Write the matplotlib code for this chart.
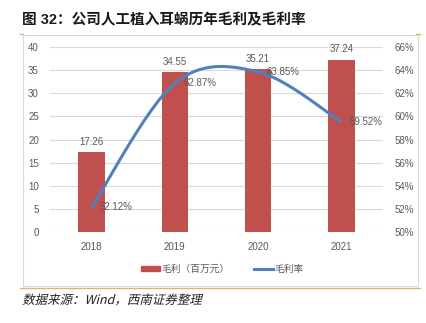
import numpy as np
import matplotlib
matplotlib.use("Agg")
import matplotlib.pyplot as plt
from matplotlib.patches import Rectangle, PathPatch
from matplotlib.lines import Line2D
from matplotlib.textpath import TextPath
from matplotlib.font_manager import FontProperties
from matplotlib.transforms import Affine2D

plt.rcParams['font.family'] = ['Liberation Sans', 'Noto Sans CJK SC', 'DejaVu Sans']

years = ['2018', '2019', '2020', '2021']
gross_profit = [17.26, 34.55, 35.21, 37.24]      # 百万元
gross_margin = [52.12, 62.87, 63.85, 59.52]      # %
left_ticks = [0, 5, 10, 15, 20, 25, 30, 35, 40]
right_ticks = [50, 52, 54, 56, 58, 60, 62, 64, 66]

bar_color = '#C0504D'
line_color = '#4F81BD'
text_color = '#595959'
grid_color = '#D9D9D9'

W, H = 426, 323
fig = plt.figure(figsize=(W / 100, H / 100), dpi=100)


def fx(px):
    return px / W


def fy(py):
    return 1 - py / H


# chart frame and the orange rules
fig.patches.append(Rectangle((fx(22.5), fy(286)), fx(418) - fx(22.5), fy(35) - fy(286),
                             transform=fig.transFigure, fill=False, ec='#D9D9D9', lw=0.8))
fig.add_artist(Line2D([fx(20), fx(420)], [fy(288), fy(288)], color='#E8B06A', lw=1.0))
fig.add_artist(Line2D([fx(20), fx(23)], [fy(34), fy(34)], color='#E8B06A', lw=1.0))
fig.add_artist(Line2D([fx(416), fx(420)], [fy(34), fy(34)], color='#E8B06A', lw=1.0))

ax = fig.add_axes([fx(50), fy(232), fx(383) - fx(50), fy(47) - fy(232)])
x = np.arange(len(years))
ax.bar(x, gross_profit, width=0.32, color=bar_color, zorder=2)
ax.set_xlim(-0.5, 3.5)
ax.set_ylim(0, 40)
ax.set_yticks(left_ticks)
ax.set_xticks(x, years)
ax.grid(axis='y', color=grid_color, lw=0.8, zorder=0)
for s in ax.spines.values():
    s.set_visible(False)
ax.tick_params(length=0, labelsize=7, labelcolor=text_color, pad=8)
ax.tick_params(axis='x', pad=7)
for xi, v in zip(x, gross_profit):
    ax.annotate(f'{v:.2f}', (xi, v), xytext=(0, 4), textcoords='offset points',
                ha='center', va='bottom', fontsize=7, color=text_color)

ax2 = ax.twinx()
ax2.set_ylim(50, 66)
ax2.set_yticks(right_ticks, [f'{t}%' for t in right_ticks])
for s in ax2.spines.values():
    s.set_visible(False)
ax2.tick_params(length=0, labelsize=7, labelcolor=text_color, pad=8)

# smoothed line through the margin points (cubic Bezier, Catmull-Rom tangents)
pts = np.column_stack([x.astype(float), np.array(gross_margin, dtype=float)])
n = len(pts)
xs, ys = [], []
t = np.linspace(0, 1, 40)[:, None]
for i in range(n - 1):
    a, b = pts[i], pts[i + 1]
    prev = pts[i - 1] if i > 0 else a
    nxt = pts[i + 2] if i + 2 < n else b
    c1 = a + (b - prev) / 6
    c2 = b - (nxt - a) / 6
    seg = (1 - t) ** 3 * a + 3 * (1 - t) ** 2 * t * c1 + 3 * (1 - t) * t ** 2 * c2 + t ** 3 * b
    xs.extend(seg[:, 0])
    ys.extend(seg[:, 1])
ax2.plot(xs, ys, color=line_color, lw=2.2, solid_capstyle='butt', zorder=3)
for xi, v in zip(x, gross_margin):
    ax2.annotate(f'{v:.2f}%', (xi, v), xytext=(6, 0), textcoords='offset points',
                 ha='left', va='center', fontsize=7, color=text_color)

# legend
handles = [Rectangle((0, 0), 1, 1, color=bar_color),
           Line2D([0], [0], color=line_color, lw=2.2)]
fig.legend(handles, ['毛利（百万元）', '毛利率'], loc='center',
           bbox_to_anchor=(fx(222), fy(269)), ncol=2, frameon=False,
           fontsize=7, labelcolor=text_color, handlelength=2.0, handleheight=0.5,
           handletextpad=0.1, columnspacing=2.5)

# title
fig.text(fx(22), fy(20), '图 32：公司人工植入耳蜗历年毛利及毛利率', fontsize=10.5,
         fontweight='bold', color='#1a1a1a', ha='left', va='center',
         family=['Liberation Sans', 'Noto Sans CJK SC'])

# slanted source note
note = TextPath((0, 0), '数据来源：Wind，西南证券整理', size=9,
                prop=FontProperties(family='Noto Sans CJK SC'))
note_tr = Affine2D().skew_deg(14, 0).scale(1 / 72).translate(22 / 100, (H - 304) / 100) + fig.dpi_scale_trans
fig.patches.append(PathPatch(note, transform=note_tr, fc='#222222', ec='none'))

fig.savefig('out.png', dpi=100)
